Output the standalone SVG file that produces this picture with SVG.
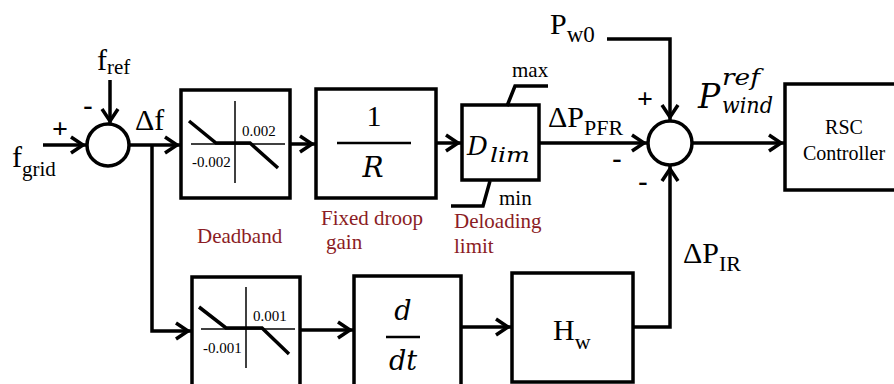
<svg xmlns="http://www.w3.org/2000/svg" width="894" height="384" viewBox="0 0 894 384" font-family="'Liberation Serif', 'Times New Roman', serif">
<style>
  .box{fill:#fff;stroke:#000;stroke-width:3.5}
  .wire{fill:none;stroke:#000;stroke-width:3.5}
  .axis{fill:none;stroke:#000;stroke-width:1.5}
  .curve{fill:none;stroke:#000;stroke-width:3.5}
  .bar{fill:none;stroke:#000;stroke-width:2.5}
  .rm{font-family:'Liberation Serif','Times New Roman',serif;fill:#000}
  .t30{font-size:30px}
  .t21{font-size:21px}
  .t20{font-size:20px}
  .t15{font-size:15px}
  .sign{font-size:28px;font-weight:bold;text-anchor:middle}
  .math{font-family:'DejaVu Serif','Liberation Serif',serif;font-style:italic;fill:#000}
  .red{fill:#8B1C24;font-size:21px}
</style>
<defs>
  <marker id="ah" markerUnits="userSpaceOnUse" viewBox="-14 -10 18 20" markerWidth="18" markerHeight="20" refX="3" refY="0" orient="auto" overflow="visible">
    <path d="M-12,-8 L0,0 L-12,8" fill="none" stroke="#000" stroke-width="3.5"/>
  </marker>
</defs>
<rect width="894" height="384" fill="#fff"/>

<g id="connectors">
  <path class="wire" d="M43,145 H86" marker-end="url(#ah)"/>
  <path class="wire" d="M110,80 V124" marker-end="url(#ah)"/>
  <path class="wire" d="M129,145 H180" marker-end="url(#ah)"/>
  <path class="wire" d="M152,145 V331 H191" marker-end="url(#ah)"/>
  <path class="wire" d="M290,144 H315" marker-end="url(#ah)"/>
  <path class="wire" d="M436,143 H461" marker-end="url(#ah)"/>
  <path class="wire" d="M539,143 H647" marker-end="url(#ah)"/>
  <path class="wire" d="M607,39 H670 V120" marker-end="url(#ah)"/>
  <path class="wire" d="M633,327 H670 V166" marker-end="url(#ah)"/>
  <path class="wire" d="M692,143 H784" marker-end="url(#ah)"/>
  <path class="wire" d="M300,330 H353" marker-end="url(#ah)"/>
  <path class="wire" d="M461,327 H511" marker-end="url(#ah)"/>
</g>

<g id="input-fgrid" font-family="'Liberation Serif', serif">
  <text class="rm t30" x="12" y="167">f<tspan class="t21" dy="9">grid</tspan></text>
  <text class="rm sign" x="60" y="138">+</text>
</g>
<g id="input-fref" font-family="'Liberation Serif', serif">
  <text class="rm t30" x="97" y="70">f<tspan class="t21" dy="4">ref</tspan></text>
  <text class="rm sign" x="88" y="114">-</text>
</g>
<g id="sum1">
  <circle cx="108" cy="145" r="21" class="box" stroke-width="3"/>
</g>
<g id="label-df" font-family="'Liberation Serif', serif">
  <text class="rm t30" x="135" y="130" font-size="31">Δf</text>
</g>

<g id="deadband" font-family="'Liberation Serif', serif">
  <rect class="box" x="181" y="90" width="109" height="108"/>
  <line class="axis" x1="191" y1="144" x2="285" y2="144"/>
  <line class="axis" x1="235" y1="101" x2="235" y2="183"/>
  <polyline class="curve" points="189,121 216,143 250,143 278,168"/>
  <text class="rm t15" x="242" y="136">0.002</text>
  <text class="rm t15" x="192" y="167">-0.002</text>
  <text class="rm red" x="197" y="243">Deadband</text>
</g>

<g id="droop" font-family="'Liberation Serif', serif">
  <rect class="box" x="316" y="89" width="120" height="109"/>
  <text class="rm t30" x="374" y="126" text-anchor="middle">1</text>
  <line class="bar" x1="337" y1="143" x2="411" y2="143"/>
  <text class="math" x="373" y="177" text-anchor="middle" font-size="28">R</text>
  <text class="rm red" x="321" y="225">Fixed droop</text>
  <text class="rm red" x="326" y="249">gain</text>
</g>

<g id="dlim" font-family="'Liberation Serif', serif">
  <rect class="box" x="462" y="105" width="77" height="75"/>
  <text class="math" x="467" y="155" font-size="26">D</text>
  <text class="math" x="490" y="162" font-size="21" textLength="40" lengthAdjust="spacingAndGlyphs">lim</text>
  <polyline class="curve" points="507,106 515,86 548,86" stroke-width="3"/>
  <polyline class="curve" points="490,181 483,206 451,206" stroke-width="3"/>
  <text class="rm t21" x="512" y="77">max</text>
  <text class="rm t21" x="499" y="205">min</text>
  <text class="rm red" x="454" y="228">Deloading</text>
  <text class="rm red" x="454" y="253">limit</text>
</g>

<g id="label-dppfr" font-family="'Liberation Serif', serif">
  <text class="rm t30" x="548" y="127">ΔP<tspan font-size="22" dy="8">PFR</tspan></text>
  <text class="rm sign" x="617" y="167">-</text>
</g>

<g id="input-pw0" font-family="'Liberation Serif', serif">
  <text class="rm t30" x="550" y="34">P<tspan font-size="23" dy="8">w0</tspan></text>
  <text class="rm sign" x="645" y="108">+</text>
</g>

<g id="sum2" font-family="'Liberation Serif', serif">
  <circle cx="670" cy="143" r="22" class="box" stroke-width="3"/>
  <text class="rm sign" x="643" y="190">-</text>
</g>

<g id="label-pref">
  <text class="math" x="698" y="108" font-size="33">P</text>
  <text class="math" x="722" y="85" font-size="22" textLength="38" lengthAdjust="spacingAndGlyphs">ref</text>
  <text class="math" x="722" y="113" font-size="22" textLength="51" lengthAdjust="spacingAndGlyphs">wind</text>
</g>

<g id="rsc" font-family="'Liberation Serif', serif">
  <rect class="box" x="785" y="84" width="130" height="106" stroke-width="3.5"/>
  <text class="rm t20" x="844" y="134" text-anchor="middle">RSC</text>
  <text class="rm t20" x="844" y="160" text-anchor="middle">Controller</text>
</g>

<g id="deadband2" font-family="'Liberation Serif', serif">
  <rect class="box" x="192" y="277" width="108" height="120"/>
  <line class="axis" x1="201" y1="329" x2="295" y2="329"/>
  <line class="axis" x1="246" y1="287" x2="246" y2="368"/>
  <polyline class="curve" points="199,307 226,328 262,328 289,354"/>
  <text class="rm t15" x="253" y="321">0.001</text>
  <text class="rm t15" x="203" y="353">-0.001</text>
</g>

<g id="derivative">
  <rect class="box" x="354" y="276" width="107" height="120"/>
  <text class="math" x="403" y="320" font-size="27" text-anchor="middle">d</text>
  <line class="bar" x1="386" y1="337" x2="420" y2="337"/>
  <text class="math" x="403" y="370" font-size="27" text-anchor="middle">dt</text>
</g>

<g id="hw" font-family="'Liberation Serif', serif">
  <rect class="box" x="512" y="273" width="121" height="109"/>
  <text class="rm t30" x="553" y="340">H<tspan font-size="22" dy="9">w</tspan></text>
</g>

<g id="label-dpir" font-family="'Liberation Serif', serif">
  <text class="rm t30" x="683" y="263">ΔP<tspan font-size="22" dy="8">IR</tspan></text>
</g>
</svg>
